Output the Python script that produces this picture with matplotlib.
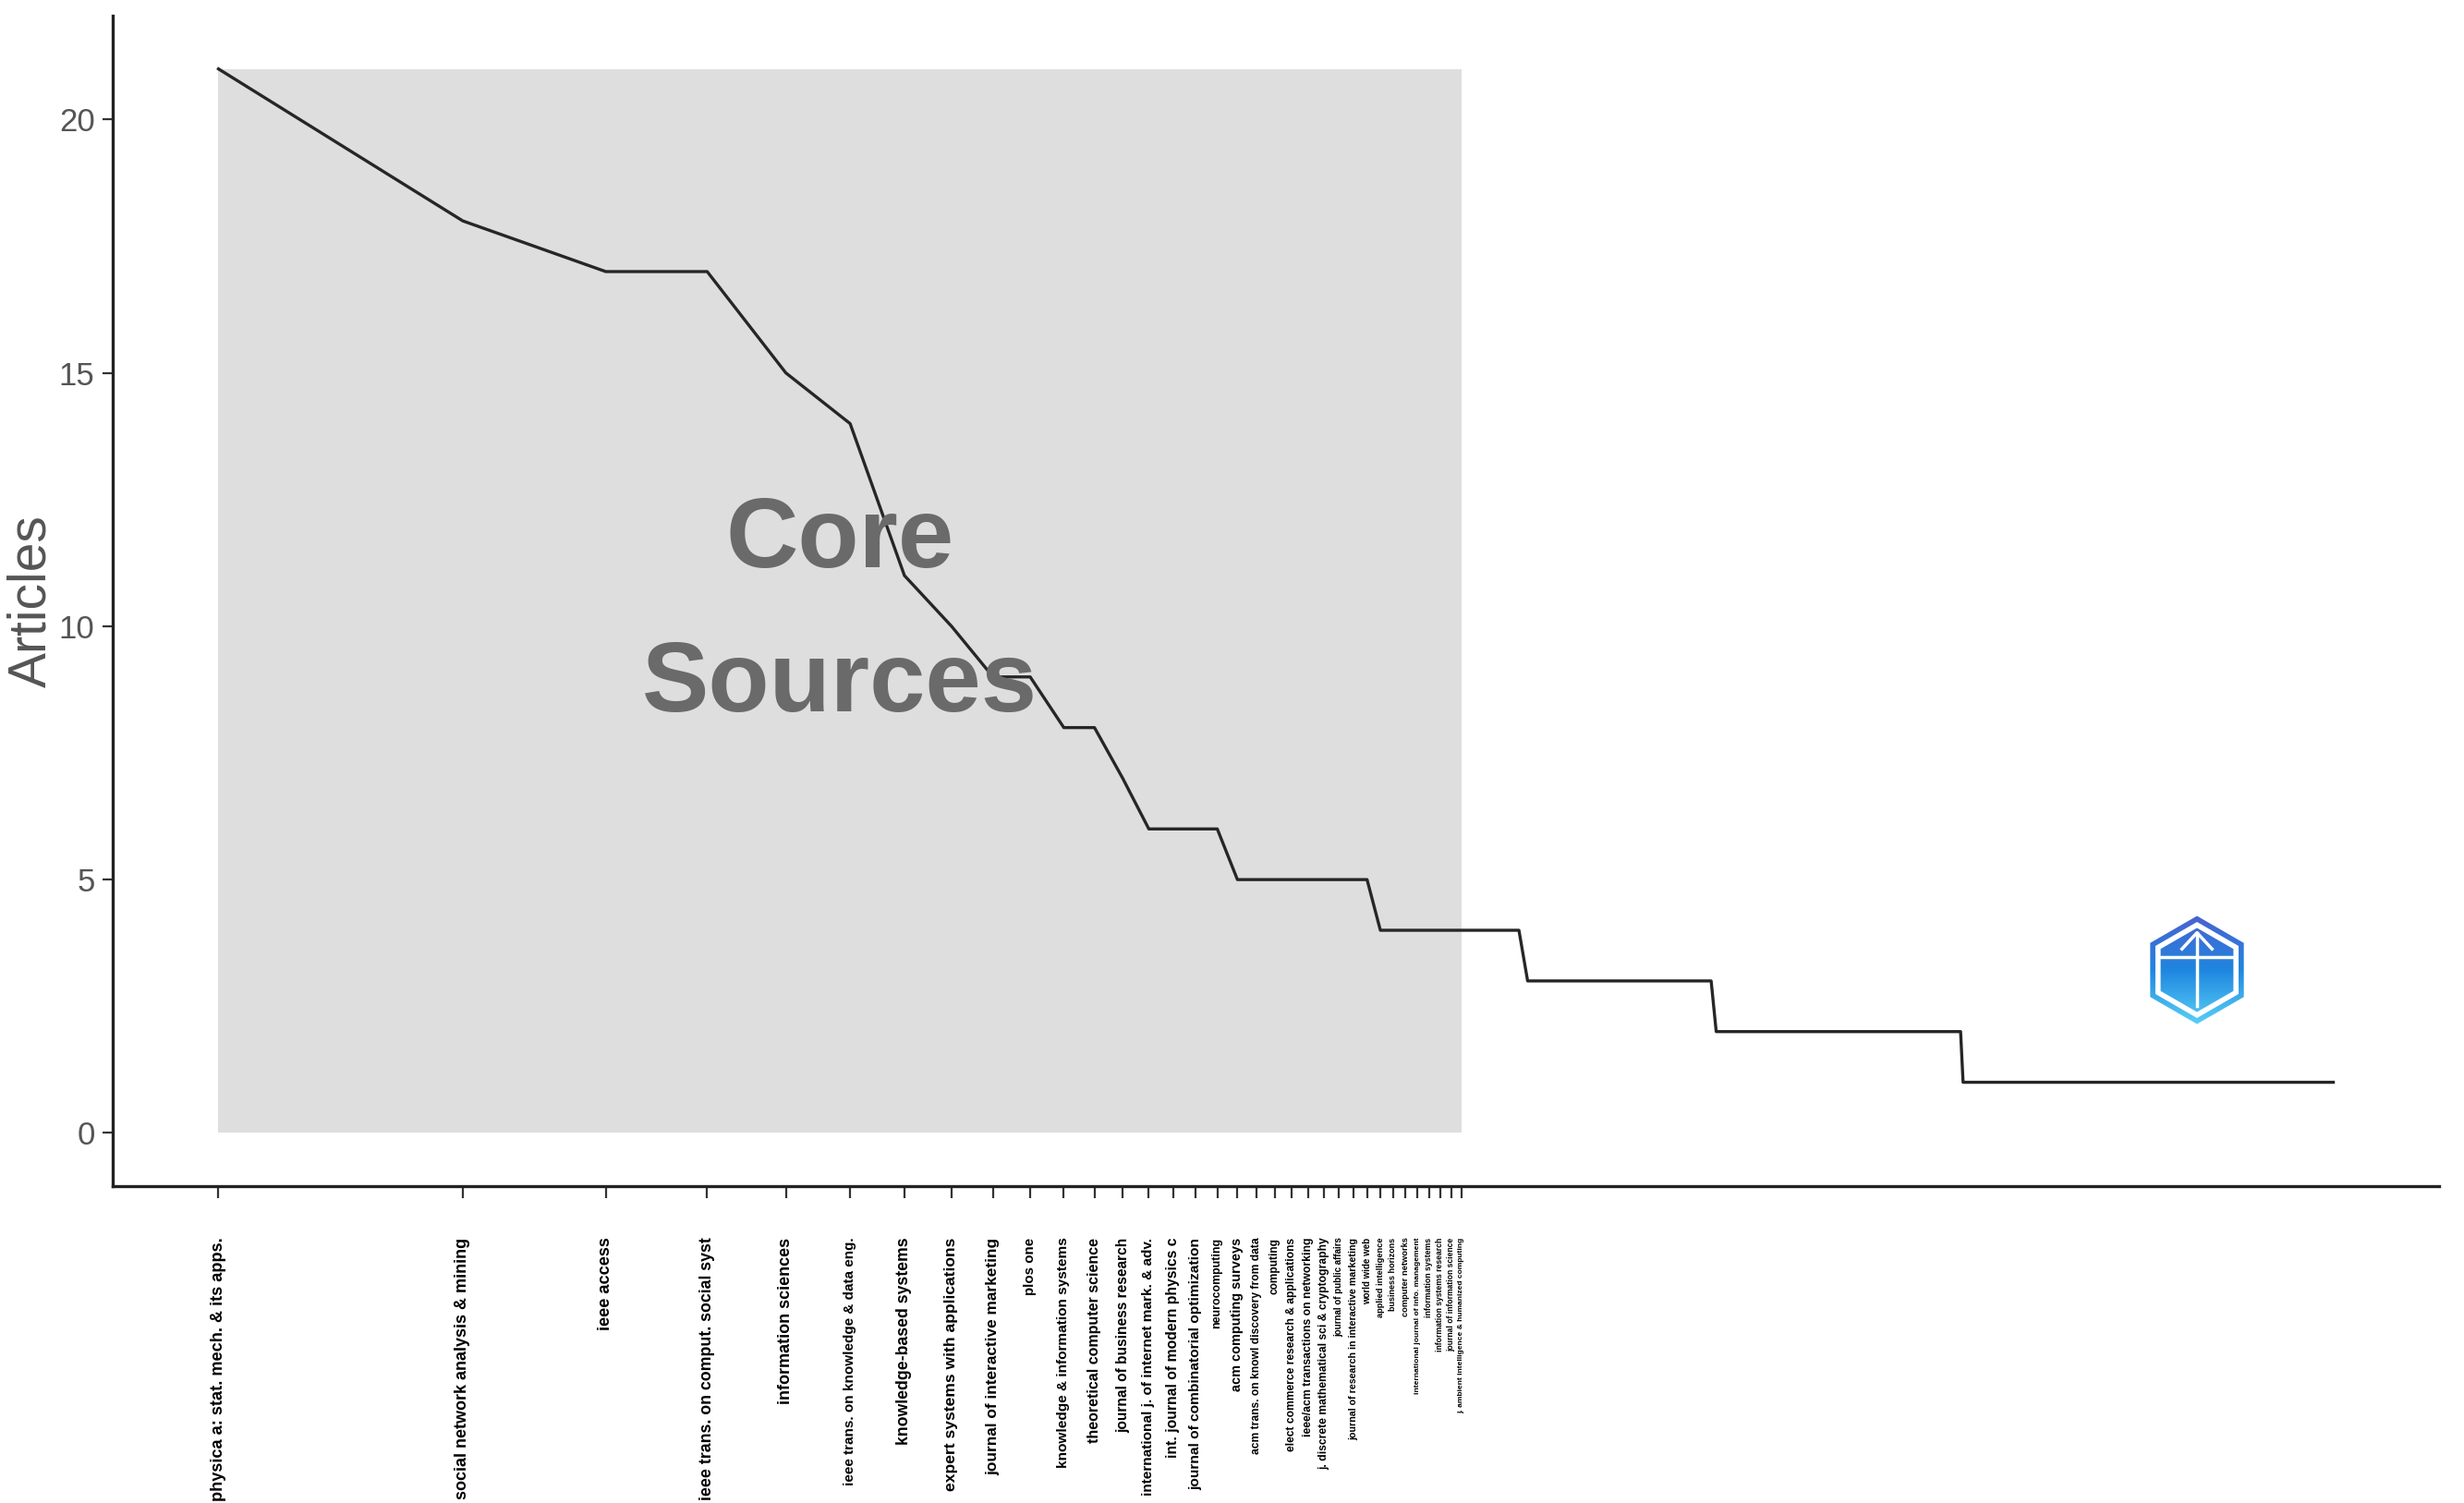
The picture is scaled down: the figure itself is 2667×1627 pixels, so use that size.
import numpy as np
import matplotlib
matplotlib.use("Agg")
import matplotlib.pyplot as plt
from matplotlib.patches import Rectangle, RegularPolygon

plt.rcParams.update({"font.family": ["Liberation Sans", "DejaVu Sans"]})

# Bradford's law: articles per source, sources ranked by productivity
core_sources = [
    "physica a: stat. mech. & its apps.",
    "social network analysis & mining",
    "ieee access",
    "ieee trans. on comput. social syst",
    "information sciences",
    "ieee trans. on knowledge & data eng.",
    "knowledge-based systems",
    "expert systems with applications",
    "journal of interactive marketing",
    "plos one",
    "knowledge & information systems",
    "theoretical computer science",
    "journal of business research",
    "international j. of internet mark. & adv.",
    "int. journal of modern physics c",
    "journal of combinatorial optimization",
    "neurocomputing",
    "acm computing surveys",
    "acm trans. on knowl discovery from data",
    "computing",
    "elect commerce research & applications",
    "ieee/acm transactions on networking",
    "j. discrete mathematical sci & cryptography",
    "journal of public affairs",
    "journal of research in interactive marketing",
    "world wide web",
    "applied intelligence",
    "business horizons",
    "computer networks",
    "international journal of info. management",
    "information systems",
    "information systems research",
    "journal of information science",
    "j. ambient intelligence & humanized computing",
]

# articles of the top-ranked sources (ranks 1..26)
top_articles = [21, 18, 17, 17, 15, 14, 11, 10, 9, 9, 8, 8, 7,
                6, 6, 6, 6, 5, 5, 5, 5, 5, 5, 5, 5, 5]
# remaining sources: article level and how many sources share it
tail_levels = [4, 3, 2, 1]
tail_sources = [14, 29, 71, 263]

articles = np.concatenate([top_articles, np.repeat(tail_levels, tail_sources)])
ranks = np.arange(1, len(articles) + 1)
n_core = len(core_sources)

# drawn length of each rotated source label, in pixels (style)
label_len = np.array([170, 169, 60, 169, 108, 160, 138, 170, 161, 37,
                      149, 132, 126, 167, 142, 161, 58, 99, 139, 36,
                      136, 128, 150, 64, 148, 43, 51, 47, 68, 99,
                      51, 82, 99, 121]) * 1.68

W, H = 2667, 1627
fig = plt.figure(figsize=(W / 100, H / 100), dpi=100)
ax = fig.add_axes([122 / W, 1 - 1284 / H, (2640 - 122) / W, (1284 - 17) / H])

ymax = articles.max()
ax.add_patch(Rectangle((1, 0), n_core - 1, ymax, facecolor="#dedede",
                       edgecolor="none", zorder=0))
ax.plot(ranks, articles, color="#262626", lw=2.4, zorder=2)

ax.text(10 ** (np.log10(n_core) / 2), ymax / 2 - 0.25, "Core\nSources",
        ha="center", va="center", fontsize=78, fontweight="bold",
        color="#6a6a6a", linespacing=1.72, zorder=3)

ax.set_xscale("log")
lo, hi = 0, np.log10(len(articles))
pad = 0.05 * (hi - lo)
ax.set_xlim(10 ** (lo - pad), 10 ** (hi + pad))
ax.set_ylim(-0.05 * ymax, ymax * 1.05)

ax.xaxis.set_minor_locator(matplotlib.ticker.NullLocator())
ax.set_xticks(ranks[:n_core])
ax.set_xticklabels(core_sources, rotation=90, fontweight="bold", fontsize=10)
ax.tick_params(axis="x", length=9, width=1.6, color="#333333", pad=31)

renderer = fig.canvas.get_renderer()
max_size = np.interp(ranks[:n_core], [1, 20, 26, 34], [13.5, 11, 7, 6])
for lab, target, cap in zip(ax.get_xticklabels(), label_len, max_size):
    h = lab.get_window_extent(renderer).height
    lab.set_fontsize(min(cap, 10 * target / h))

ax.set_yticks([0, 5, 10, 15, 20])
ax.tick_params(axis="y", length=8, width=1.6, color="#333333", pad=6,
               labelsize=25, labelcolor="#555555")
ax.set_ylabel("Articles", fontsize=41, color="#555555")
ax.yaxis.set_label_coords(-0.024, 0.5)

for side in ["top", "right"]:
    ax.spines[side].set_visible(False)
for side in ["left", "bottom"]:
    ax.spines[side].set_linewidth(2.4)
    ax.spines[side].set_color("#222222")

# hexagon logo in the lower right
lx, ly, ls = 2378, 1050, 130
lax = fig.add_axes([(lx - ls / 2) / W, 1 - (ly + ls / 2) / H, ls / W, ls / H])
lax.set_xlim(-1, 1)
lax.set_ylim(-1, 1)
lax.set_aspect("equal")
lax.axis("off")
grad = np.linspace(0, 1, 256).reshape(-1, 1)
cmap = matplotlib.colors.LinearSegmentedColormap.from_list(
    "logo", ["#4f5ecf", "#1f86e0", "#5fd8f8"])
z = 1
for r, fill in [(0.9, True), (0.8, False), (0.7, True)]:
    hexp = RegularPolygon((0, 0), 6, radius=r, orientation=0,
                          facecolor="white", edgecolor="none", zorder=z)
    lax.add_patch(hexp)
    if fill:
        im = lax.imshow(grad, extent=[-1, 1, -1, 1], cmap=cmap,
                        aspect="auto", origin="upper", zorder=z + 0.5)
        im.set_clip_path(hexp)
    z += 1
lax.plot([-0.6, 0.6], [0.22, 0.22], color="white", lw=2.5, zorder=z)
lax.plot([0, 0], [-0.6, 0.62], color="white", lw=2.5, zorder=z)
lax.plot([-0.25, 0, 0.25], [0.35, 0.62, 0.35], color="white", lw=2.5, zorder=z)

fig.savefig("out.png", dpi=100)
